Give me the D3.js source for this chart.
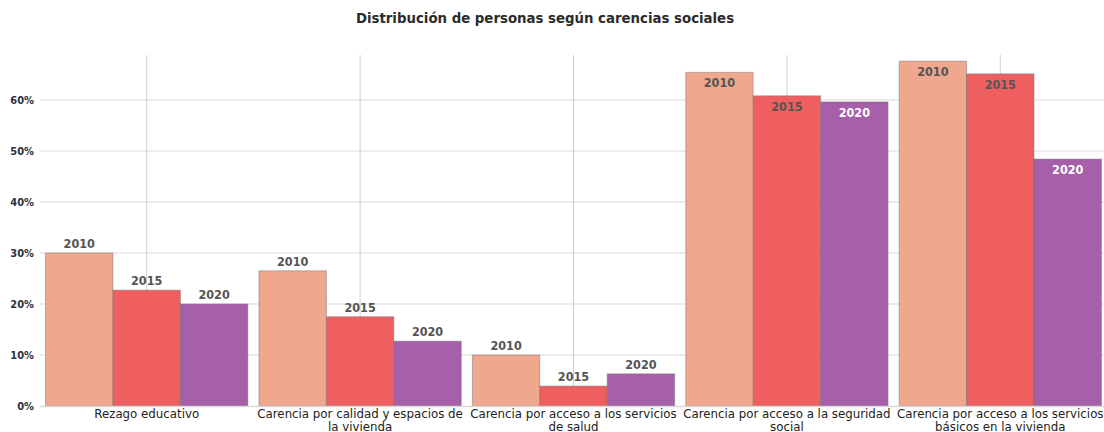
<!DOCTYPE html>
<html>
<head>
<meta charset="utf-8">
<script src="https://cdn.jsdelivr.net/npm/d3@7"></script>
<style>
  body { margin: 0; background: #fff; }
  text { font-family: "DejaVu Sans Condensed", "DejaVu Sans", sans-serif; font-stretch: condensed; }
  .tick-lbl { font-size: 11px; font-weight: bold; fill: #2a3140; }
  .cat-lbl { font-family: "DejaVu Sans", sans-serif; font-stretch: normal; font-size: 11.8px; fill: #222; }
  .bar-lbl { font-size: 12.5px; font-weight: bold; }
</style>
</head>
<body>
<script>
// chart data
const categories = [
  ["Rezago educativo"],
  ["Carencia por calidad y espacios de", "la vivienda"],
  ["Carencia por acceso a los servicios", "de salud"],
  ["Carencia por acceso a la seguridad", "social"],
  ["Carencia por acceso a los servicios", "básicos en la vivienda"]
];
const years = ["2010", "2015", "2020"];
const values2010 = [30.0, 26.5, 10.0, 65.4, 67.6];
const values2015 = [22.7, 17.5, 3.9, 60.8, 65.1];
const values2020 = [20.0, 12.7, 6.3, 59.6, 48.4];
const yTicks = [0, 10, 20, 30, 40, 50, 60];
const colors = ["#efa78e", "#ef5f5f", "#a65fa8"];

const width = 1104, height = 432;
const plotTop = 55, plotBottom = 406, plotLeft = 40, plotRight = 1107;

const svg = d3.select("body").append("svg")
    .attr("width", width)
    .attr("height", height);

// title
svg.append("text")
    .text("Distribución de personas según carencias sociales")
    .attr("x", 545)
    .attr("y", 23)
    .attr("text-anchor", "middle")
    .attr("font-size", 14.8)
    .attr("font-weight", "bold")
    .attr("fill", "#2b2b2b");

var xScale = d3.scaleBand()
    .domain(d3.range(categories.length))
    .range([plotLeft, plotRight])
    .paddingInner(0.052)
    .paddingOuter(0.026);

var xSub = d3.scaleBand()
    .domain(years)
    .range([0, xScale.bandwidth()]);

var yScale = d3.scaleLinear()
    .domain([0, 68.8])
    .range([plotBottom, plotTop]);

// horizontal grid
var grid = svg.append("g");
grid.selectAll("line.h")
    .data(yTicks.slice(1))
    .join("line")
    .attr("x1", plotLeft)
    .attr("x2", width)
    .attr("y1", d => yScale(d))
    .attr("y2", d => yScale(d))
    .attr("stroke", "#e6e6e6")
    .attr("stroke-width", 1.5);

// vertical grid at category centres
grid.selectAll("line.v")
    .data(d3.range(categories.length))
    .join("line")
    .attr("x1", d => xScale(d) + xScale.bandwidth() / 2)
    .attr("x2", d => xScale(d) + xScale.bandwidth() / 2)
    .attr("y1", plotTop)
    .attr("y2", plotBottom)
    .attr("stroke", "#cfcfcf")
    .attr("stroke-width", 1);

// y axis labels
var yAxis = d3.axisLeft(yScale)
    .tickValues(yTicks)
    .tickSize(0)
    .tickPadding(6)
    .tickFormat(d => d + "%");
var yg = svg.append("g")
    .attr("transform", "translate(" + plotLeft + ",0)")
    .call(yAxis);
yg.select(".domain").remove();
yg.selectAll("text").attr("class", "tick-lbl").attr("font-family", null).attr("font-size", null);

// bars
var series = [values2010, values2015, values2020];
var bars = svg.append("g");
var labels = svg.append("g");

series.forEach((vals, s) => {
    vals.forEach((v, i) => {
        var x0 = xScale(i) + xSub(years[s]);
        bars.append("rect")
            .attr("x", x0)
            .attr("y", yScale(v))
            .attr("width", xSub.bandwidth())
            .attr("height", yScale(0) - yScale(v))
            .attr("fill", colors[s])
            .attr("stroke", "#6e6e6e")
            .attr("stroke-opacity", 0.45)
            .attr("stroke-width", 1);

        var inside = v > 40;
        labels.append("text")
            .attr("class", "bar-lbl")
            .text(years[s])
            .attr("x", x0 + xSub.bandwidth() / 2)
            .attr("y", inside ? yScale(v) + 15 : yScale(v) - 5)
            .attr("text-anchor", "middle")
            .attr("fill", inside && s == 2 ? "#ffffff" : "#555555");
    });
});

// baseline
svg.append("line")
    .attr("x1", plotLeft)
    .attr("x2", width)
    .attr("y1", plotBottom + 0.5)
    .attr("y2", plotBottom + 0.5)
    .attr("stroke", "#d9d9d9")
    .attr("stroke-width", 1.5);

// category labels
var cats = svg.append("g");
categories.forEach((lines, i) => {
    var t = cats.append("text")
        .attr("class", "cat-lbl")
        .attr("text-anchor", "middle")
        .attr("x", xScale(i) + xScale.bandwidth() / 2)
        .attr("y", 418);
    lines.forEach((ln, j) => {
        t.append("tspan")
            .attr("x", xScale(i) + xScale.bandwidth() / 2)
            .attr("dy", j == 0 ? 0 : 12.5)
            .text(ln);
    });
});
</script>
</body>
</html>
